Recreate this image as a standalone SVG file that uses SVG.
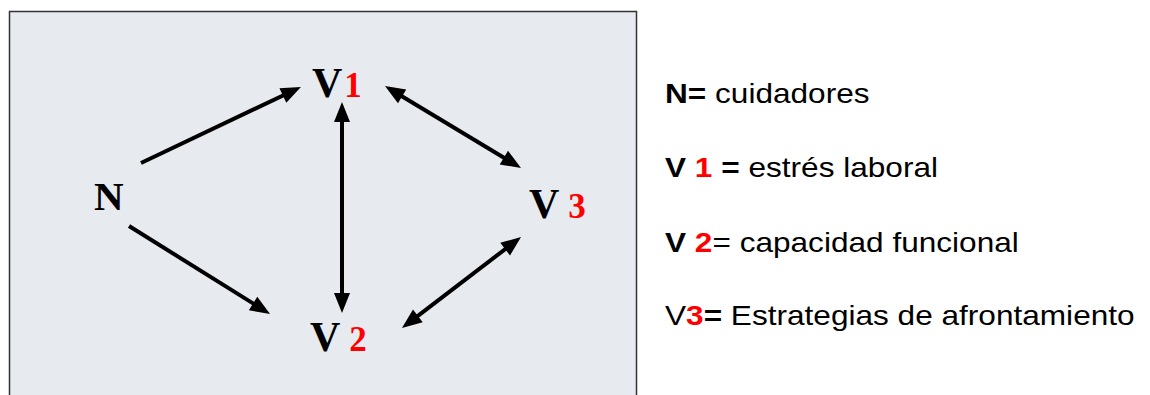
<svg xmlns="http://www.w3.org/2000/svg" width="1150" height="395" viewBox="0 0 1150 395">
<style>
.conn{stroke:#000;stroke-width:4;fill:none}
.serif{font-family:"Liberation Serif","Times New Roman",serif}
.vlab{font-size:42px;font-weight:bold;fill:#000}
.num{font-size:35px;font-weight:bold;fill:#f00}
.leg{font-family:"Liberation Sans",Arial,sans-serif;font-size:27px;fill:#000}
.b{font-weight:bold}
.r{fill:#f00;font-weight:bold}
</style>
<defs>
<marker id="ah" markerUnits="userSpaceOnUse" markerWidth="20" markerHeight="16" refX="9" refY="8" orient="auto-start-reverse" overflow="visible">
<path d="M0,0 L20,8 L0,16 z" fill="#000"/>
</marker>
</defs>
<rect x="9.5" y="11.5" width="627" height="400" fill="#e7eaef" stroke="#333" stroke-width="1.5"/>
<g id="connectors">
<line class="conn" x1="141" y1="163" x2="291" y2="91.7" marker-end="url(#ah)"/>
<line class="conn" x1="129" y1="226" x2="260.7" y2="308.2" marker-end="url(#ah)"/>
<line class="conn" x1="342" y1="113" x2="342" y2="302" marker-start="url(#ah)" marker-end="url(#ah)"/>
<line class="conn" x1="394.4" y1="91.7" x2="511.6" y2="162.3" marker-start="url(#ah)" marker-end="url(#ah)"/>
<line class="conn" x1="512.3" y1="243.7" x2="410.7" y2="321.3" marker-start="url(#ah)" marker-end="url(#ah)"/>
</g>
<g id="node-N"><text class="serif" x="94" y="210" font-size="41" font-weight="bold" fill="#000">N</text></g>
<g id="node-V1"><text class="serif" x="312" y="97"><tspan class="vlab">V</tspan><tspan class="num" dx="2">1</tspan></text></g>
<g id="node-V2"><text class="serif" x="310" y="351"><tspan class="vlab">V</tspan><tspan class="num" dx="9">2</tspan></text></g>
<g id="node-V3"><text class="serif" x="529" y="218"><tspan class="vlab">V</tspan><tspan class="num" dx="9">3</tspan></text></g>
<g id="legend" transform="translate(665,0) scale(1.17,1)">
<text class="leg" x="0" y="103"><tspan class="b">N=</tspan> cuidadores</text>
<text class="leg" x="0" y="177"><tspan class="b">V </tspan><tspan class="r">1</tspan><tspan class="b"> =</tspan> estrés laboral</text>
<text class="leg" x="0" y="252"><tspan class="b">V </tspan><tspan class="r">2</tspan>= capacidad funcional</text>
<text class="leg" x="0" y="325">V<tspan class="r">3</tspan><tspan class="b">=</tspan> Estrategias de afrontamiento</text>
</g>
</svg>
